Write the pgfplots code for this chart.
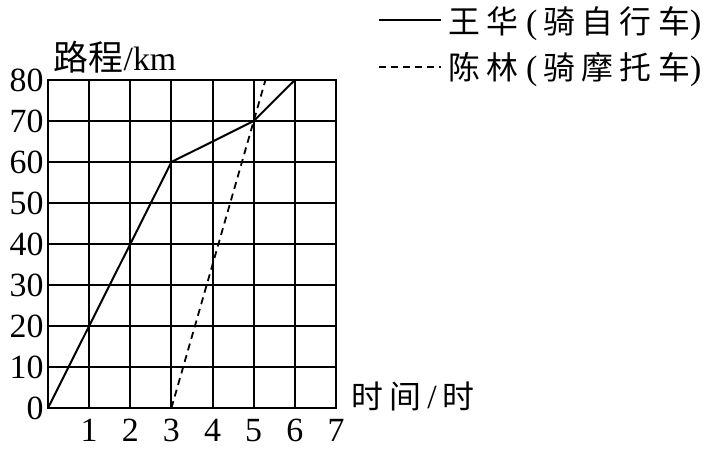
\documentclass[border=0pt]{standalone}
\usepackage{fontspec}
\setmainfont{Liberation Serif}
\newfontfamily\cjk{Noto Sans CJK SC}
\newfontfamily\cjksp[LetterSpace=20]{Noto Sans CJK SC}
\usepackage{pgfplots}
\pgfplotsset{compat=1.18}
\newcommand{\zh}[1]{{\cjksp\fontsize{32}{32}\selectfont #1}}
\begin{document}
\begin{tikzpicture}
\useasboundingbox (0bp,0bp) rectangle (708bp,450bp);
\begin{axis}[
  at={(48bp,42bp)}, anchor=origin,
  x=41.14bp, y=4.1bp,
  xmin=0, xmax=7, ymin=0, ymax=80,
  xtick={1,...,7}, ytick={0,10,...,80},
  grid=major,
  grid style={black, line width=2bp},
  axis line style={line width=2bp},
  major tick length=0pt,
  /pgf/number format/assume math mode=true,
  tick label style={font=\fontsize{34}{34}\selectfont},
  yticklabel style={xshift=-1bp},
  xticklabel style={inner ysep=0pt, yshift=-11bp},
  every axis x label/.style={at={(axis description cs:1.267,0.034)}, anchor=center},
  every axis y label/.style={at={(axis description cs:0.233,1.07)}, anchor=center},
  xlabel={\zh{时间}{\fontsize{34}{34}\selectfont\,/\,}\zh{时}},
  ylabel={{\cjk\fontsize{35}{35}\selectfont 路程}{\fontsize{34}{34}\selectfont /km}},
  legend style={at={(axis description cs:1.135,1.232)}, anchor=north west,
    draw=none, fill=none, row sep=18bp,
    nodes={inner xsep=6bp, inner ysep=0bp},
    font=\fontsize{34}{34}\selectfont},
  legend cell align=left,
  legend image code/.code={\draw[#1] (0bp,0bp) -- (62bp,0bp);},
]
\addplot[black, line width=2bp] coordinates {(0,0) (1,20) (2,40) (3,60) (5,70) (6,80)};
\addlegendentry{\zh{王华}\hspace{8bp}(\hspace{6bp}\zh{骑自行车})}
\addplot[black, line width=1.8bp, dash pattern=on 7bp off 5bp] coordinates {(3,0) (5,70) (5.286,80)};
\addlegendentry{\zh{陈林}\hspace{8bp}(\hspace{6bp}\zh{骑摩托车})}
\end{axis}
\end{tikzpicture}
\end{document}
